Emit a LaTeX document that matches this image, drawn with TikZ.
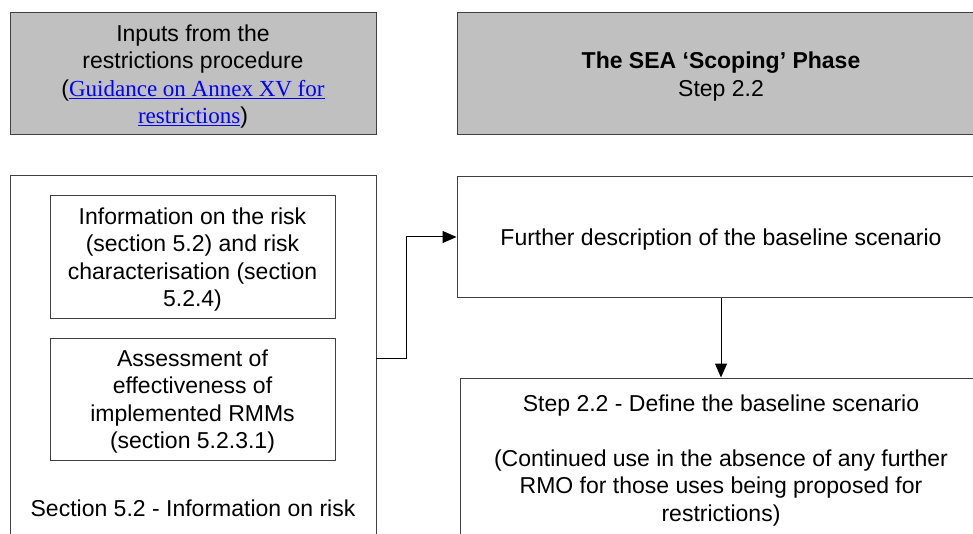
\documentclass[tikz,border=0pt]{standalone}
\usepackage{fontspec}
\setmainfont{Liberation Sans}
\newfontfamily\linkfont{Liberation Serif}
\usetikzlibrary{arrows.meta}
\definecolor{boxgray}{HTML}{C0C0C0}
\definecolor{edge}{HTML}{404040}
\definecolor{linkblue}{HTML}{0000FF}
\begin{document}
\begin{tikzpicture}[x=1pt,y=-1pt,
  every node/.style={font=\fontsize{23}{27.5}\selectfont, align=center, inner sep=0pt},
  frame/.style={draw=edge, line width=1pt},
  panel/.style={frame, minimum width=#1},
  headbox/.style={panel=#1, fill=boxgray, minimum height=122pt},
  boxtext/.style={yshift=-2.5pt},
  flow/.style={line width=1pt, -{Triangle[length=14pt,width=12pt]}}]
\useasboundingbox (0,0) rectangle (973,534);
\clip (0,0) rectangle (973,534);

% header row
\node[headbox=366pt] (inputs) at (193,74) {};
\node[boxtext] (inputstext) at (inputs.center) {Inputs from the\\restrictions procedure\\(\textcolor{linkblue}{\linkfont\underline{Guidance on Annex XV for}}\\\textcolor{linkblue}{\linkfont\underline{restrictions}})};
\node[headbox=528pt] (scoping) at (721,74) {};
\node[boxtext] (scopingtext) at (scoping.center) {\textbf{The SEA ‘Scoping’ Phase}\\Step 2.2};

% left column: information on risk
\node[panel=366pt, minimum height=384pt] (risk) at (193,368) {};
\node[panel=285pt, minimum height=122pt] (riskinfo) at (192.5,257) {};
\node[boxtext] (riskinfotext) at (riskinfo.center) {Information on the risk\\(section 5.2) and risk\\characterisation (section\\5.2.4)};
\node[panel=285pt, minimum height=122pt] (rmm) at (192.5,399) {};
\node[boxtext] (rmmtext) at (rmm.center) {Assessment of\\effectiveness of\\implemented RMMs\\(section 5.2.3.1)};
\node (risklabel) at (193,508) {Section 5.2 - Information on risk};

% right column: baseline scenario
\node[panel=528pt, minimum height=121pt, execute at begin node={\rule{0pt}{21.5pt}}] (further) at (721,237) {Further description of the baseline scenario};
\node[panel=522pt, minimum height=222pt] (baseline) at (721,489) {};
\node[anchor=north] (baselinetext) at (721,395) {Step 2.2 - Define the baseline scenario\\[27pt](Continued use in the absence of any further\\RMO for those uses being proposed for\\restrictions)};

% connectors
\coordinate (riskout) at (376,358);
\draw[flow] (riskout) -- ++(30,0) |- (further.west);
\draw[flow] (further.south) -- (baseline.north);
\end{tikzpicture}
\end{document}
